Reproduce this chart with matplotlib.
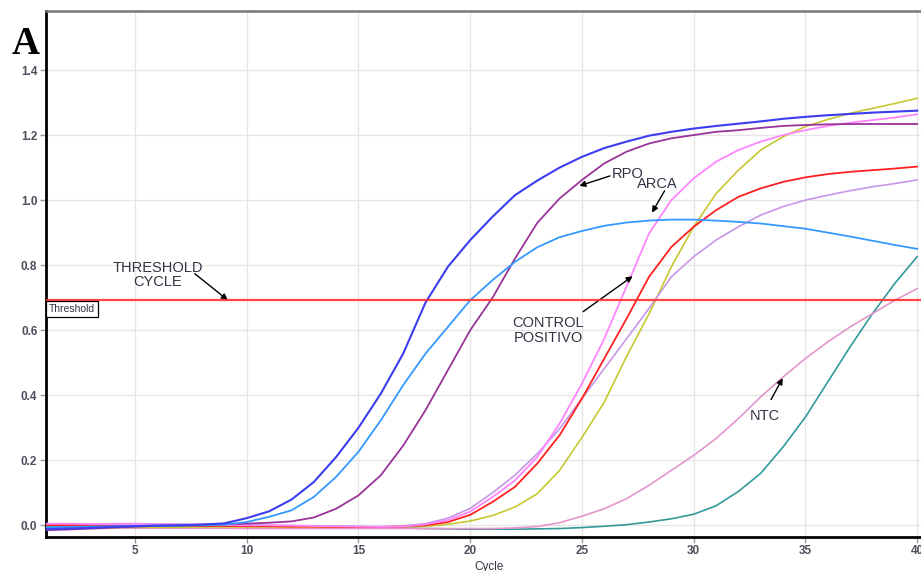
import matplotlib
matplotlib.use("Agg")
import matplotlib.pyplot as plt

cycles = list(range(1, 41))

# fluorescence curves
blue = [-0.012, -0.010, -0.008, -0.005, -0.003, -0.001, 0.000, 0.002, 0.006, 0.022,
        0.043, 0.079, 0.133, 0.210, 0.300, 0.405, 0.528, 0.685, 0.795, 0.877,
        0.949, 1.015, 1.060, 1.100, 1.133, 1.160, 1.180, 1.198, 1.210, 1.220,
        1.228, 1.235, 1.242, 1.250, 1.256, 1.261, 1.265, 1.269, 1.272, 1.275]
light_blue = [-0.006, -0.005, -0.004, -0.003, -0.002, -0.001, -0.001, 0.000, 0.002, 0.010,
              0.026, 0.046, 0.087, 0.149, 0.226, 0.323, 0.431, 0.528, 0.610, 0.692,
              0.754, 0.810, 0.855, 0.886, 0.905, 0.921, 0.931, 0.937, 0.940, 0.940,
              0.937, 0.933, 0.928, 0.920, 0.912, 0.900, 0.888, 0.875, 0.862, 0.850]
purple = [-0.015, -0.013, -0.010, -0.007, -0.004, -0.002, 0.000, 0.002, 0.003, 0.005,
          0.008, 0.012, 0.024, 0.051, 0.092, 0.154, 0.245, 0.354, 0.477, 0.600,
          0.700, 0.820, 0.930, 1.005, 1.062, 1.113, 1.149, 1.174, 1.190, 1.200,
          1.210, 1.215, 1.222, 1.228, 1.231, 1.233, 1.234, 1.234, 1.234, 1.234]
pink = [0.005, 0.005, 0.004, 0.004, 0.003, 0.003, 0.002, 0.002, 0.001, 0.000,
        0.000, -0.001, -0.002, -0.003, -0.004, -0.005, -0.004, 0.003, 0.016, 0.042,
        0.087, 0.138, 0.210, 0.313, 0.436, 0.574, 0.735, 0.897, 1.000, 1.067,
        1.118, 1.154, 1.180, 1.200, 1.215, 1.228, 1.238, 1.246, 1.254, 1.264]
red = [0.000, 0.000, 0.000, 0.000, 0.000, -0.001, -0.001, -0.002, -0.002, -0.003,
       -0.003, -0.004, -0.004, -0.005, -0.005, -0.005, -0.004, 0.000, 0.010, 0.032,
       0.072, 0.118, 0.190, 0.277, 0.390, 0.513, 0.636, 0.764, 0.856, 0.918,
       0.969, 1.010, 1.036, 1.056, 1.070, 1.080, 1.087, 1.092, 1.097, 1.103]
lavender = [0.003, 0.004, 0.004, 0.005, 0.005, 0.004, 0.004, 0.003, 0.002, 0.001,
            0.000, -0.001, -0.002, -0.003, -0.004, -0.004, -0.002, 0.005, 0.022, 0.052,
            0.100, 0.154, 0.220, 0.297, 0.390, 0.482, 0.574, 0.667, 0.764, 0.826,
            0.877, 0.918, 0.954, 0.980, 1.000, 1.015, 1.029, 1.041, 1.051, 1.062]
yellow = [-0.008, -0.008, -0.007, -0.007, -0.006, -0.006, -0.006, -0.005, -0.005, -0.005,
          -0.005, -0.005, -0.005, -0.005, -0.005, -0.005, -0.005, -0.003, 0.003, 0.013,
          0.030, 0.056, 0.097, 0.169, 0.270, 0.379, 0.520, 0.650, 0.795, 0.918,
          1.020, 1.092, 1.154, 1.195, 1.226, 1.248, 1.267, 1.282, 1.297, 1.313]
ntc = [-0.010, -0.010, -0.010, -0.009, -0.009, -0.009, -0.009, -0.009, -0.009, -0.010,
       -0.010, -0.010, -0.010, -0.010, -0.010, -0.010, -0.010, -0.010, -0.010, -0.010,
       -0.010, -0.008, -0.004, 0.008, 0.028, 0.051, 0.082, 0.123, 0.169, 0.215,
       0.267, 0.328, 0.395, 0.456, 0.513, 0.564, 0.610, 0.651, 0.692, 0.728]
teal = [-0.005, -0.005, -0.005, -0.004, -0.004, -0.004, -0.003, -0.003, -0.003, -0.003,
        -0.003, -0.002, -0.002, -0.003, -0.004, -0.006, -0.008, -0.010, -0.011, -0.012,
        -0.012, -0.012, -0.011, -0.010, -0.007, -0.003, 0.002, 0.010, 0.020, 0.034,
        0.060, 0.104, 0.160, 0.241, 0.333, 0.441, 0.549, 0.651, 0.744, 0.826]

threshold = 0.693

series = [
    (teal, "#339999", 1.2),
    (ntc, "#e496cc", 1.2),
    (yellow, "#c8c832", 1.2),
    (lavender, "#c896e6", 1.2),
    (red, "#ff2020", 1.3),
    (pink, "#ff85ff", 1.3),
    (purple, "#993399", 1.3),
    (light_blue, "#3399ff", 1.3),
    (blue, "#3c3cf0", 1.5),
]

plt.rcParams["font.family"] = ["Liberation Sans", "DejaVu Sans"]

W, H = 921, 571
fig = plt.figure(figsize=(W / 100, H / 100), dpi=100)
ax = fig.add_axes([45.6 / W, (H - 537) / H, (W - 45.6) / W, (537 - 11) / H])

for ys, col, lw in series:
    ax.plot(cycles, ys, color=col, lw=lw, zorder=3)

ax.axhline(threshold, color="#ff3030", lw=1.6, alpha=0.9, zorder=4)
ax.text(1.15, threshold - 0.012, "Threshold", fontsize=7.5, color="#333344",
        va="top", ha="left", zorder=5,
        bbox=dict(boxstyle="square,pad=0.3", fc="white", ec="black", lw=0.9))

ax.set_xlim(1, 40.17)
ax.set_ylim(-0.036, 1.5815)
ax.set_xticks([5, 10, 15, 20, 25, 30, 35, 40])
ax.set_yticks([0.0, 0.2, 0.4, 0.6, 0.8, 1.0, 1.2, 1.4])
ax.set_yticklabels(["0.0", "0.2", "0.4", "0.6", "0.8", "1.0", "1.2", "1.4"])
ax.grid(True, color="#e6e6e6", lw=1.0, zorder=0)
ax.set_axisbelow(True)
ax.tick_params(length=4, width=1, color="#999999", pad=2,
               labelsize=8.5, labelcolor="#4d4d5c")
for lab in ax.get_xticklabels() + ax.get_yticklabels():
    lab.set_fontweight("bold")

ax.spines["right"].set_visible(False)
ax.spines["top"].set_color("#777777")
ax.spines["top"].set_linewidth(1.8)
ax.spines["left"].set_color("black")
ax.spines["left"].set_linewidth(2)
ax.spines["bottom"].set_color("black")
ax.spines["bottom"].set_linewidth(2)

ax.set_xlabel("Cycle", fontsize=8.5, color="#333344")
ax.xaxis.set_label_coords(0.507, -0.046)
ax.xaxis.label.set_va("top")

arrow = dict(arrowstyle="-|>", color="black", lw=1.0, mutation_scale=9)
txt = dict(fontsize=10.5, color="#333344", ha="center", va="center")
ax.annotate("", xy=(9.25, 0.687), xytext=(7.58, 0.779), arrowprops=arrow)
ax.text(6.03, 0.771, "THRESHOLD\nCYCLE", linespacing=1.0, **txt)
ax.annotate("", xy=(24.76, 1.041), xytext=(26.37, 1.077), arrowprops=arrow)
ax.text(27.06, 1.08, "RPO", **txt)
ax.annotate("", xy=(28.07, 0.954), xytext=(28.76, 1.036), arrowprops=arrow)
ax.text(28.39, 1.049, "ARCA", **txt)
ax.annotate("", xy=(27.37, 0.771), xytext=(24.95, 0.652), arrowprops=arrow)
ax.text(23.48, 0.60, "CONTROL\nPOSITIVO", linespacing=1.1, **txt)
ax.annotate("", xy=(34.04, 0.46), xytext=(33.4, 0.379), arrowprops=arrow)
ax.text(33.18, 0.335, "NTC", **txt)

fig.text(12 / W, 1 - 44 / H, "A", fontsize=28, fontweight="bold",
         family="Liberation Serif", va="center", ha="left")

fig.savefig("out.png", dpi=100)
